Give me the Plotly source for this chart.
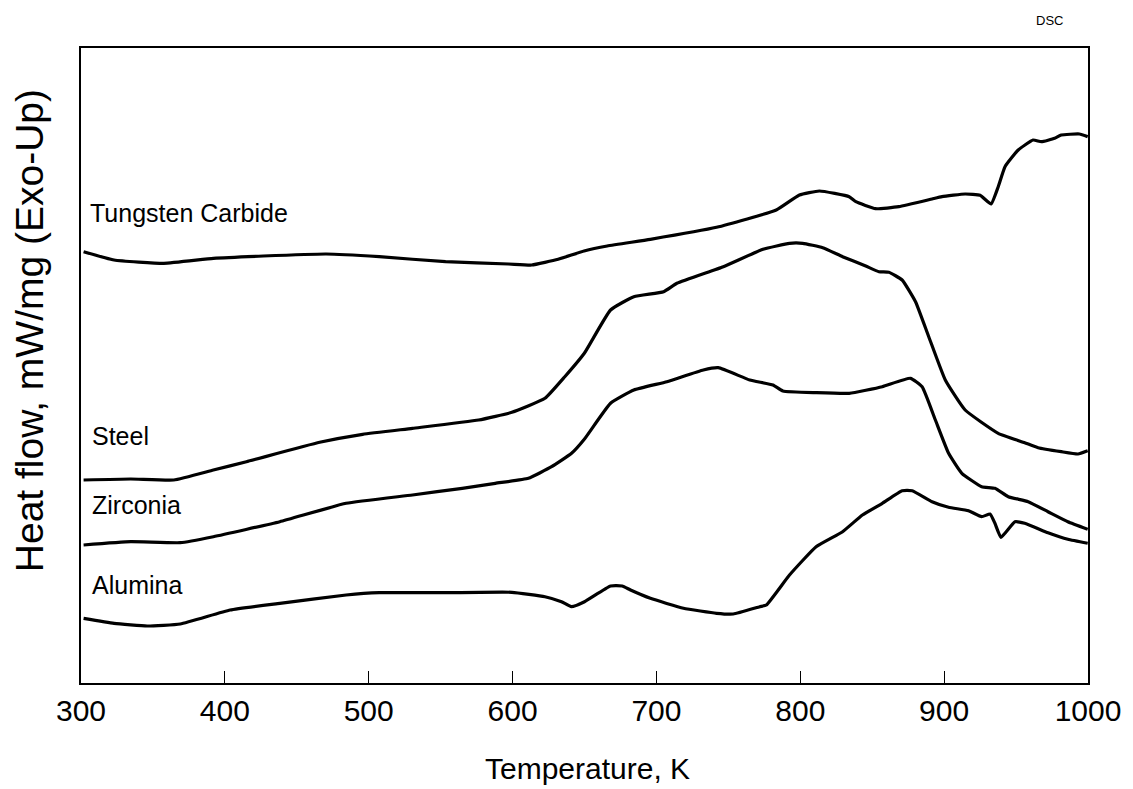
import plotly.graph_objects as go

# Temperature (K) and heat-flow (arbitrary, offset units)
wc_T = [301.8, 323, 357.6, 392, 426.7, 470.5, 507.3, 553.4, 597.2, 613.3, 631.7, 649.7, 665.8, 695.8,
        741.8, 783.3, 799.4, 813.3, 834, 838.6, 852.4, 868.5, 891.6, 898.5, 914.6, 925, 932.6, 937.6,
        942.3, 951.5, 961.8, 967.6, 976.8, 981.4, 994, 999.8]
wc_H = [431.3, 423, 419.7, 424.7, 427, 429, 426.3, 421.3, 419, 418, 423.7, 432, 437, 443.7,
        455.7, 473, 488, 492, 486.3, 481.3, 474.3, 476.3, 484, 486.3, 489, 487.7, 479, 496.3,
        516.3, 533, 543, 541.3, 544.7, 548, 549, 546.3]

steel_T = [301.8, 334.6, 364.5, 392, 415, 465.9, 495.8, 530.4, 576.4, 599.5, 622.5, 636.3, 650,
           668.1, 684.3, 705, 714.2, 746.5, 774.1, 792.5, 801.7, 815.6, 829.4, 845.5, 854.7, 861.6,
           870.8, 880.1, 889.3, 900.8, 914.6, 937.6, 956, 965.3, 981.4, 993, 999.8]
steel_H = [203, 204, 203, 213, 221.3, 240.7, 248.7, 254.7, 263, 270.7, 284.7, 306.3, 330,
           373, 386.3, 391.3, 399.7, 416.3, 433.7, 439.7, 439.7, 435.3, 426.3, 417, 411.3, 410.7,
           403, 381.3, 346.3, 303, 273, 249.7, 240.3, 235.3, 231.3, 229, 232.3]

zr_T = [301.8, 334.6, 369, 392, 438.2, 484.3, 530.4, 565, 588, 611, 627.1, 641, 650,
        668.1, 684.3, 707.3, 732.6, 743, 764.9, 781, 787.9, 811, 834, 857, 876.6, 884.7, 893.9,
        903.1, 912.3, 926.1, 935.3, 944.6, 958.4, 972.2, 986, 999.8]
zr_H = [138, 141.3, 140.3, 146.3, 161.3, 179.7, 188, 194.7, 199.7, 204.7, 216.3, 229.7, 244,
        279.7, 293, 301.3, 313, 315.3, 303, 298, 292, 290.3, 289.7, 296.3, 304.7, 296.3, 263,
        229.7, 209.7, 196.3, 194.7, 186.3, 181.3, 171.3, 161.3, 153.7]

al_T = [301.8, 323, 346, 369, 403.7, 438.2, 484.3, 507.3, 553.4, 599.5, 622.5, 634, 640.9, 650,
        668.1, 676.2, 682, 695.8, 718.8, 741.8, 753.4, 771.8, 776.4, 792.5, 811, 829.4, 843.2,
        857, 870.8, 877.8, 891.6, 903.1, 916.9, 926.1, 931.9, 935.3, 939.5, 949.2, 956, 972.2,
        986, 999.8]
al_H = [64.7, 59.7, 57, 59, 73, 79.7, 88, 90.3, 90.3, 90.7, 86.3, 81.3, 76.3, 81.3,
        97, 97, 93, 84.7, 74.7, 69.7, 69, 76.3, 78, 108, 136.3, 151.3, 168,
        179.7, 192.3, 192.3, 181.3, 175.7, 172.3, 166.3, 169, 159.7, 145.7, 161.3, 159.7, 150.3,
        143.7, 139.7]

series_names = ["Tungsten Carbide", "Steel", "Zirconia", "Alumina"]
label_T = [305, 306, 306, 306.5]
label_H = [470, 247, 178, 98]

x_ticks = [300, 400, 500, 600, 700, 800, 900, 1000]

FONT = "Liberation Sans, Arial"

fig = go.Figure()
for T, H, name in [(wc_T, wc_H, series_names[0]), (steel_T, steel_H, series_names[1]),
                   (zr_T, zr_H, series_names[2]), (al_T, al_H, series_names[3])]:
    fig.add_trace(go.Scatter(x=T, y=H, mode="lines", name=name,
                             line=dict(color="black", width=3.2, shape="spline", smoothing=0.4),
                             showlegend=False))

for name, tx, ty in zip(series_names, label_T, label_H):
    fig.add_annotation(x=tx, y=ty, text=name, showarrow=False, xanchor="left", yanchor="middle",
                       font=dict(family=FONT, size=25, color="black"))

fig.add_annotation(xref="paper", yref="paper", x=0.503, y=-0.134, yanchor="middle",
                   text="Temperature, K", showarrow=False,
                   font=dict(family=FONT, size=30, color="black"))
fig.add_annotation(xref="paper", yref="paper", x=-0.051, xanchor="center", y=0.555,
                   yanchor="middle",
                   text="Heat flow, mW/mg (Exo-Up)", textangle=-90, showarrow=False,
                   font=dict(family=FONT, size=39, color="black"))
fig.add_annotation(xref="paper", yref="paper", x=0.977, y=1.044, yanchor="middle",
                   text="DSC", showarrow=False,
                   font=dict(family=FONT, size=13, color="black"))

# page body has an 8px margin, so the figure is shrunk by 8px to fit the window
fig.update_layout(
    width=1125, height=781,
    margin=dict(l=73, r=39, t=40, b=106),
    plot_bgcolor="white", paper_bgcolor="white",
    xaxis=dict(range=[300, 1000], tickvals=x_ticks, ticks="inside", ticklen=12, tickwidth=1,
               tickcolor="black", showline=True, linecolor="black", linewidth=1.6, mirror=True,
               showgrid=False, zeroline=False,
               tickfont=dict(family=FONT, size=30, color="black")),
    yaxis=dict(range=[0, 635], showticklabels=False, ticks="", showline=True, linecolor="black",
               linewidth=1.6, mirror=True, showgrid=False, zeroline=False),
)

fig.write_html("out.html")
